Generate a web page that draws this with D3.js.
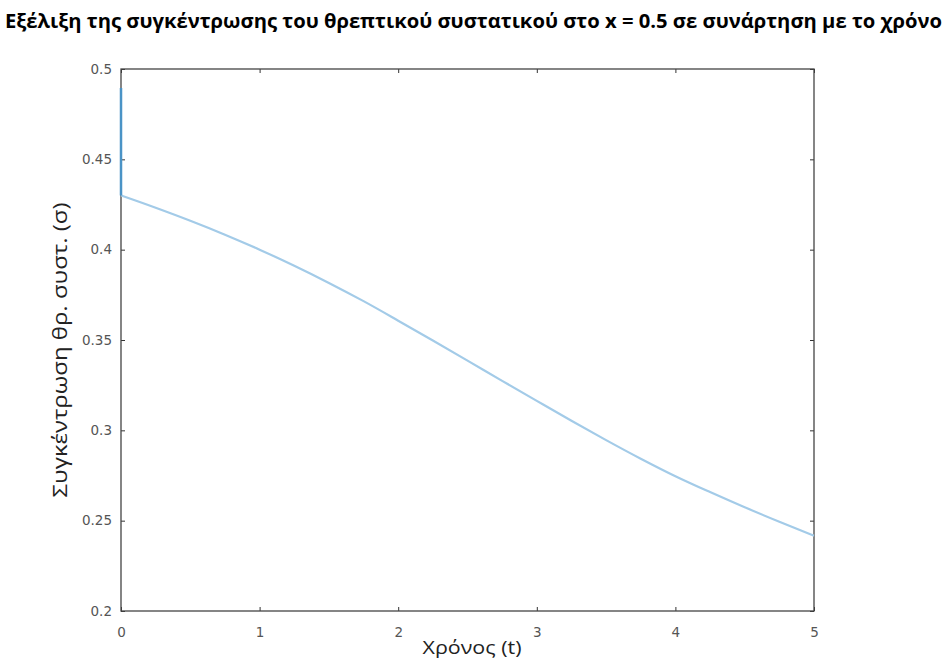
<!DOCTYPE html>
<html>
<head>
<meta charset="utf-8">
<title>Συγκέντρωση θρεπτικού συστατικού</title>
<script src="https://d3js.org/d3.v7.min.js"></script>
<style>
  body { margin: 0; background: #fff; }
</style>
</head>
<body>
<div id="chart"></div>
<script>
// times and concentration
const times = [0, 0.25, 0.5, 0.75, 1, 1.25, 1.5, 1.75, 2, 2.25, 2.5, 2.75, 3,
               3.25, 3.5, 3.75, 4, 4.25, 4.5, 4.75, 5];
const conc = [0.430, 0.4232, 0.4160, 0.4083, 0.4000, 0.3911, 0.3816, 0.3715,
              0.3607, 0.3497, 0.3386, 0.3274, 0.3163, 0.3053, 0.2946, 0.2843,
              0.2746, 0.2658, 0.2574, 0.2494, 0.2417];
// initial jump at t = 0
const spikeT = [0, 0];
const spikeC = [0.4895, 0.430];
const xTicks = [0, 1, 2, 3, 4, 5];
const yTicks = [0.2, 0.25, 0.3, 0.35, 0.4, 0.45, 0.5];

const width = 947, height = 660;
const margin = {top: 69, right: 133, bottom: 49, left: 121};

const svg = d3.select("#chart").append("svg")
    .attr("width", width)
    .attr("height", height);

const x = d3.scaleLinear().domain([0, 5]).range([margin.left, width - margin.right]);
const y = d3.scaleLinear().domain([0.2, 0.5]).range([height - margin.bottom, margin.top]);

// title
svg.append("text")
    .attr("x", 5)
    .attr("y", 28)
    .attr("textLength", 937)
    .attr("lengthAdjust", "spacingAndGlyphs")
    .style("font-family", "'Open Sans', sans-serif")
    .style("font-weight", "bold")
    .style("font-size", "20px")
    .style("fill", "#000")
    .text("Εξέλιξη της συγκέντρωσης του θρεπτικού συστατικού στο x = 0.5 σε συνάρτηση με το χρόνο");

// axes, octave style: ticks inside on every side
const tickStyle = g => {
  g.select(".domain").remove();
  g.selectAll(".tick line").attr("stroke", "#333");
  g.selectAll(".tick text")
    .style("font-family", "'DejaVu Sans', sans-serif")
    .style("font-size", "13.5px")
    .style("fill", "#555");
};

svg.append("g")
    .attr("transform", `translate(0,${y(0.2)})`)
    .call(d3.axisBottom(x).tickValues(xTicks).tickFormat(d3.format("d")).tickSizeInner(-4).tickPadding(16))
    .call(tickStyle);

svg.append("g")
    .attr("transform", `translate(0,${y(0.5)})`)
    .call(d3.axisTop(x).tickValues(xTicks).tickFormat("").tickSizeInner(-4))
    .call(tickStyle);

svg.append("g")
    .attr("transform", `translate(${x(0)},0)`)
    .call(d3.axisLeft(y).tickValues(yTicks).tickFormat(d => String(+d.toFixed(2))).tickSizeInner(-4).tickPadding(9))
    .call(tickStyle);

svg.append("g")
    .attr("transform", `translate(${x(5)},0)`)
    .call(d3.axisRight(y).tickValues(yTicks).tickFormat("").tickSizeInner(-4))
    .call(tickStyle);

// frame
svg.append("rect")
    .attr("x", x(0))
    .attr("y", y(0.5))
    .attr("width", x(5) - x(0))
    .attr("height", y(0.2) - y(0.5))
    .attr("fill", "none")
    .attr("stroke", "#444")
    .attr("stroke-width", 1.3);

const line = d3.line()
    .x(d => x(d[0]))
    .y(d => y(d[1]))
    .curve(d3.curveMonotoneX);

svg.append("path")
    .datum(times.map((t, i) => [t, conc[i]]))
    .attr("d", line)
    .attr("fill", "none")
    .attr("stroke", "#a3cbe8")
    .attr("stroke-width", 2.2);

svg.append("path")
    .datum(spikeT.map((t, i) => [t, spikeC[i]]))
    .attr("d", d3.line().x(d => x(d[0])).y(d => y(d[1])))
    .attr("fill", "none")
    .attr("stroke", "#4a93c6")
    .attr("stroke-width", 2.5);

// axis labels
svg.append("text")
    .attr("x", 472)
    .attr("y", 654)
    .attr("text-anchor", "middle")
    .attr("textLength", 99)
    .attr("lengthAdjust", "spacingAndGlyphs")
    .style("font-family", "'Open Sans', sans-serif")
    .style("font-size", "19px")
    .style("fill", "#222")
    .text("Χρόνος (t)");

svg.append("text")
    .attr("transform", `translate(67,${(y(0.2) + y(0.5)) / 2 + 10}) rotate(-90)`)
    .attr("text-anchor", "middle")
    .attr("textLength", 295)
    .attr("lengthAdjust", "spacingAndGlyphs")
    .style("font-family", "'Open Sans', sans-serif")
    .style("font-size", "20px")
    .style("fill", "#222")
    .text("Συγκέντρωση θρ. συστ. (σ)");
</script>
</body>
</html>
